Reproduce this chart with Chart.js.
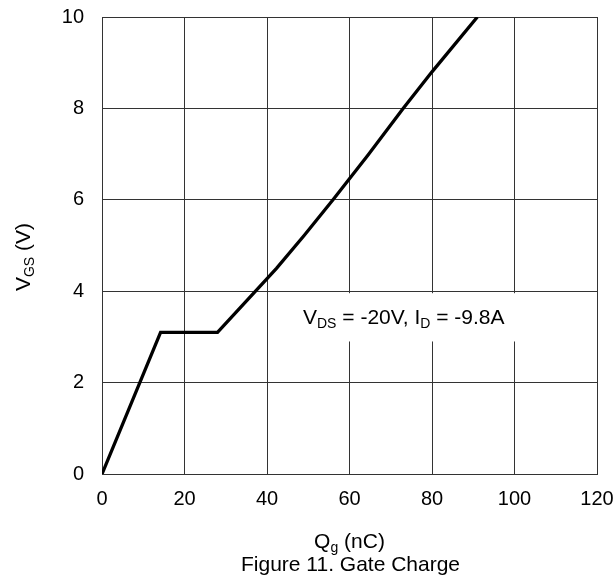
<!DOCTYPE html>
<html>
<head>
<meta charset="utf-8">
<script src="https://cdn.jsdelivr.net/npm/chart.js@4.4.1/dist/chart.umd.min.js"></script>
<style>
  html, body { margin: 0; padding: 0; background: #fff; }
  #wrap { width: 613px; height: 581px; }
</style>
</head>
<body>
<div id="wrap"><canvas id="gc" width="613" height="581"></canvas></div>
<script>
// Figure 11 - gate charge curve
const chargeNC = [0, 14.2, 28, 42.3, 49, 56, 64.5, 73, 80, 91];
const vgsVolts = [0, 3.1, 3.1, 4.5, 5.22, 6.0, 6.98, 8.0, 8.8, 10];

const xTicks = [0, 20, 40, 60, 80, 100, 120];
const yTicks = [0, 2, 4, 6, 8, 10];

const FONT = "'Liberation Sans', Arial, sans-serif";
const GRID = "#333";

// text runs with subscripts: [{t, sub}]
function runsWidth(ctx, runs, size, subSize) {
  var w = 0;
  runs.forEach(function (r) {
    ctx.font = (r.sub ? subSize : size) + "px " + FONT;
    w += ctx.measureText(r.t).width;
  });
  return w;
}

function drawRuns(ctx, runs, x, y, size, subSize, subShift) {
  var cx = x;
  ctx.textBaseline = "alphabetic";
  ctx.textAlign = "left";
  runs.forEach(function (r) {
    ctx.font = (r.sub ? subSize : size) + "px " + FONT;
    ctx.fillText(r.t, cx, r.sub ? y + subShift : y);
    cx += ctx.measureText(r.t).width;
  });
}

const labelsPlugin = {
  id: "labels",
  beforeDatasetsDraw: function (chart) {
    var ctx = chart.ctx;
    var xs = chart.scales.x, ys = chart.scales.y;
    ctx.save();

    // annotation box hides the grid behind it
    var boxTop = ys.getPixelForValue(4) + 2;
    var boxBottom = ys.getPixelForValue(2.9);
    ctx.fillStyle = "#fff";
    ctx.fillRect(xs.getPixelForValue(46), boxTop, xs.getPixelForValue(102) - xs.getPixelForValue(46), boxBottom - boxTop);

    ctx.fillStyle = "#000";
    var ann = [
      { t: "V" }, { t: "DS", sub: true }, { t: " = -20V, I" }, { t: "D", sub: true }, { t: " = -9.8A" }
    ];
    drawRuns(ctx, ann, 303, 324, 21, 14, 4);
    ctx.restore();
  },
  afterDraw: function (chart) {
    var ctx = chart.ctx;
    var area = chart.chartArea;
    var mid = (area.left + area.right) / 2;
    ctx.save();
    ctx.fillStyle = "#000";

    var xt = [{ t: "Q" }, { t: "g", sub: true }, { t: " (nC)" }];
    drawRuns(ctx, xt, mid - runsWidth(ctx, xt, 21, 14) / 2, 548, 21, 14, 4);

    var cap = "Figure 11. Gate Charge";
    ctx.font = "21px " + FONT;
    ctx.textAlign = "center";
    ctx.textBaseline = "alphabetic";
    ctx.fillText(cap, mid + 1, 571);

    var yt = [{ t: "V" }, { t: "GS", sub: true }, { t: " (V)" }];
    var w = runsWidth(ctx, yt, 21, 14);
    ctx.translate(30, 257);
    ctx.rotate(-Math.PI / 2);
    drawRuns(ctx, yt, -w / 2, 0, 21, 14, 4);
    ctx.restore();
  }
};

new Chart(document.getElementById("gc"), {
  type: "line",
  data: {
    datasets: [{
      data: chargeNC.map(function (q, i) { return { x: q, y: vgsVolts[i] }; }),
      borderColor: "#000",
      borderWidth: 3.3,
      pointRadius: 0,
      tension: 0,
      fill: false,
    }],
  },
  options: {
    responsive: false,
    devicePixelRatio: 1,
    animation: false,
    layout: { padding: { top: 17, right: 16, left: 0, bottom: 0 } },
    plugins: { legend: { display: false }, tooltip: { enabled: false } },
    scales: {
      x: {
        type: "linear",
        min: 0,
        max: 120,
        afterBuildTicks: function (s) { s.ticks = xTicks.map(function (v) { return { value: v }; }); },
        afterFit: function (s) {
          s.height = 107;
          s.paddingLeft = 0; s.paddingRight = 0;
        },
        ticks: { color: "#000", font: { family: FONT, size: 20 }, padding: 13, maxRotation: 0, autoSkip: false },
        grid: { color: GRID, lineWidth: 1, drawTicks: false },
        border: { display: true, color: GRID, width: 1 },
      },
      y: {
        min: 0,
        max: 10,
        afterBuildTicks: function (s) { s.ticks = yTicks.map(function (v) { return { value: v }; }); },
        afterFit: function (s) {
          s.width = 102;
          s.paddingTop = 0; s.paddingBottom = 0;
        },
        ticks: { color: "#000", font: { family: FONT, size: 20 }, padding: 18, autoSkip: false },
        grid: { color: GRID, lineWidth: 1, drawTicks: false },
        border: { display: true, color: GRID, width: 1 },
      },
    },
  },
  plugins: [labelsPlugin],
});
</script>
</body>
</html>
